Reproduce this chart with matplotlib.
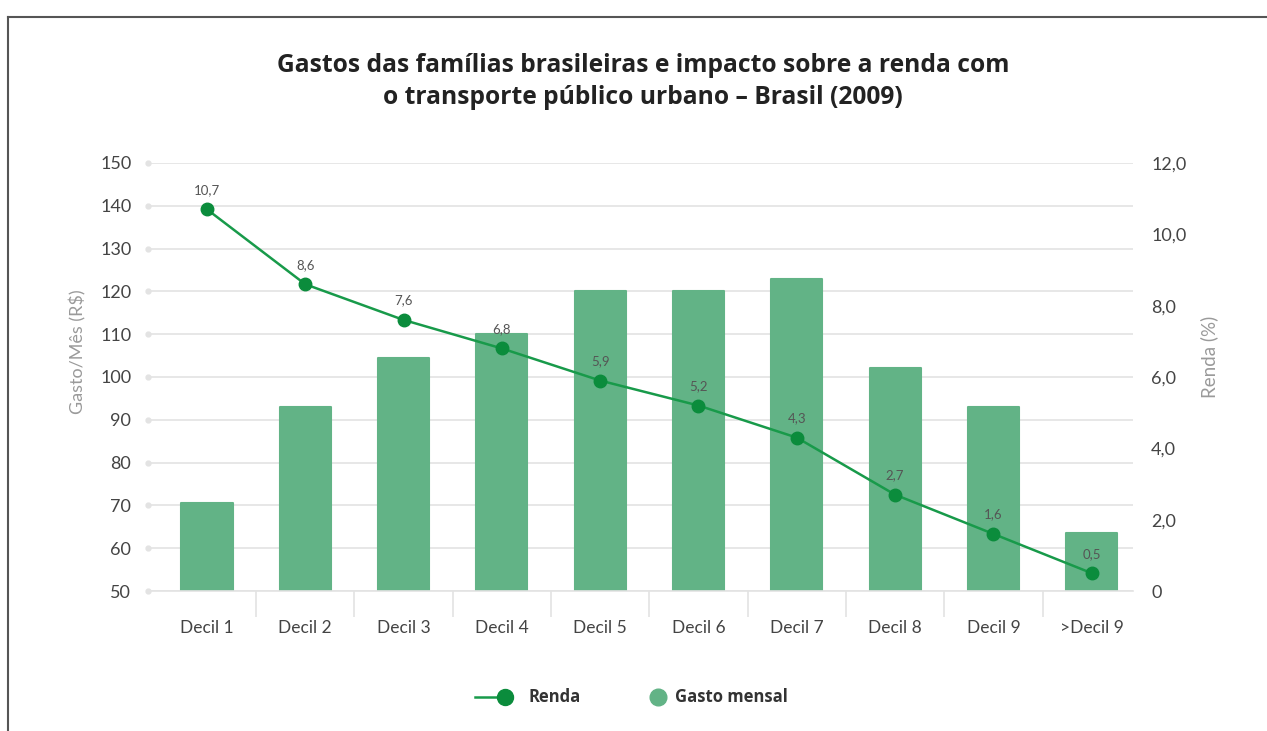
import matplotlib
matplotlib.use("Agg")
import matplotlib.pyplot as plt
from matplotlib.lines import Line2D
import numpy as np

plt.rcParams['font.family'] = ['Lato', 'DejaVu Sans']

categories = ["Decil 1", "Decil 2", "Decil 3", "Decil 4", "Decil 5",
              "Decil 6", "Decil 7", "Decil 8", "Decil 9", ">Decil 9"]
gasto_mensal = [70.5, 93, 104.5, 110, 120, 120, 123, 102, 93, 63.5]
renda = [10.7, 8.6, 7.6, 6.8, 5.9, 5.2, 4.3, 2.7, 1.6, 0.5]
left_ticks = [50, 60, 70, 80, 90, 100, 110, 120, 130, 140, 150]
right_ticks = [0, 2, 4, 6, 8, 10, 12]
right_labels = ["0", "2,0", "4,0", "6,0", "8,0", "10,0", "12,0"]

W, H = 1267, 731
fig = plt.figure(figsize=(W / 100, H / 100), dpi=100)

bar_color = "#62b386"
line_color = "#189a4a"
marker_color = "#0b8c3c"
grid_color = "#e3e3e3"
tick_color = "#444444"

# axes placement in pixels
L, R, T, B = 148, 1133, 163, 591
ax = fig.add_axes([L / W, (H - B) / H, (R - L) / W, (B - T) / H])
x = np.arange(len(categories))

ax.bar(x, [g - 50 for g in gasto_mensal], bottom=50, width=0.52,
       color=bar_color, zorder=2, linewidth=1.5, edgecolor=bar_color,
       joinstyle='round')
ax.set_xlim(-0.6, 9.42)
ax.set_ylim(50, 150)
ax.set_yticks(left_ticks)
ax.set_yticklabels([str(t) for t in left_ticks])
ax.grid(axis='y', color=grid_color, linewidth=1.2, zorder=0)
ax.set_axisbelow(True)
for s in ["top", "right", "left"]:
    ax.spines[s].set_visible(False)
ax.spines["bottom"].set_color(grid_color)
ax.spines["bottom"].set_linewidth(1.2)
ax.set_xticks(x)
ax.set_xticklabels(categories)
ax.set_xticks(np.arange(0.5, 9, 1.0), minor=True)
ax.tick_params(axis='x', which='major', length=0, pad=21, labelsize=12.5,
               labelcolor=tick_color)
ax.tick_params(axis='x', which='minor', length=19, width=1.2, color=grid_color)
ax.tick_params(axis='y', length=0, pad=12, labelsize=13, labelcolor=tick_color)
# small dots at left end of gridlines
ax.plot([-0.6] * len(left_ticks), left_ticks, 'o', ms=3.5, color=grid_color,
        clip_on=False, zorder=1)
ax.set_ylabel("Gasto/Mês (R$)", color="#9a9a9a", fontsize=13)
ax.yaxis.set_label_coords((86 - L) / (R - L), (B - 352) / (B - T))

ax2 = ax.twinx()
ax2.set_ylim(0, 12)
ax2.set_yticks(right_ticks)
ax2.set_yticklabels(right_labels)
for s in ax2.spines.values():
    s.set_visible(False)
ax2.tick_params(axis='y', length=0, pad=13, labelsize=13, labelcolor=tick_color)
ax2.plot(x, renda, color=line_color, linewidth=1.8, marker='o', ms=9,
         markerfacecolor=marker_color, markeredgecolor=marker_color, zorder=3)
for xi, v in zip(x, renda):
    ax2.annotate(f"{v:.1f}".replace(".", ","), (xi, v), xytext=(0, 14),
                 textcoords="offset points", ha="center", va="center",
                 fontsize=9.5, color="#555555")
ax2.set_ylabel("Renda (%)", color="#9a9a9a", fontsize=13.5)
ax2.yaxis.set_label_coords((1200 - L) / (R - L), (B - 357) / (B - T))

title_font = ['Open Sans', 'DejaVu Sans']
fig.text(643 / W, 1 - 66 / H, "Gastos das famílias brasileiras e impacto sobre a renda com",
         ha="center", va="center", fontsize=17.7, fontweight="bold", color="#222222",
         family=title_font)
fig.text(643 / W, 1 - 97 / H, "o transporte público urbano – Brasil (2009)",
         ha="center", va="center", fontsize=17.7, fontweight="bold", color="#222222",
         family=title_font)

# legend (drawn manually in figure pixels)
ly = 1 - 697 / H
fig.add_artist(Line2D([475 / W, 505 / W], [ly, ly], transform=fig.transFigure,
                      color=line_color, linewidth=1.8))
fig.add_artist(Line2D([505 / W], [ly], transform=fig.transFigure, marker='o',
                      ms=11.5, markerfacecolor=marker_color,
                      markeredgecolor=marker_color, linestyle='none'))
fig.text(528 / W, ly, "Renda", ha="left", va="center", fontsize=12,
         fontweight="bold", color="#333333", family=title_font)
fig.add_artist(Line2D([658 / W], [ly], transform=fig.transFigure, marker='o',
                      ms=12, markerfacecolor=bar_color,
                      markeredgecolor=bar_color, linestyle='none'))
fig.text(675 / W, ly, "Gasto mensal", ha="left", va="center", fontsize=12,
         fontweight="bold", color="#333333", family=title_font)

# figure border (left and top)
fig.add_artist(Line2D([8 / W, 8 / W], [0, 1 - 17 / H], transform=fig.transFigure,
                      color="#555555", linewidth=1.5))
fig.add_artist(Line2D([8 / W, 1], [1 - 17 / H, 1 - 17 / H], transform=fig.transFigure,
                      color="#555555", linewidth=1.5))

fig.savefig("out.png", dpi=100, facecolor="white")
